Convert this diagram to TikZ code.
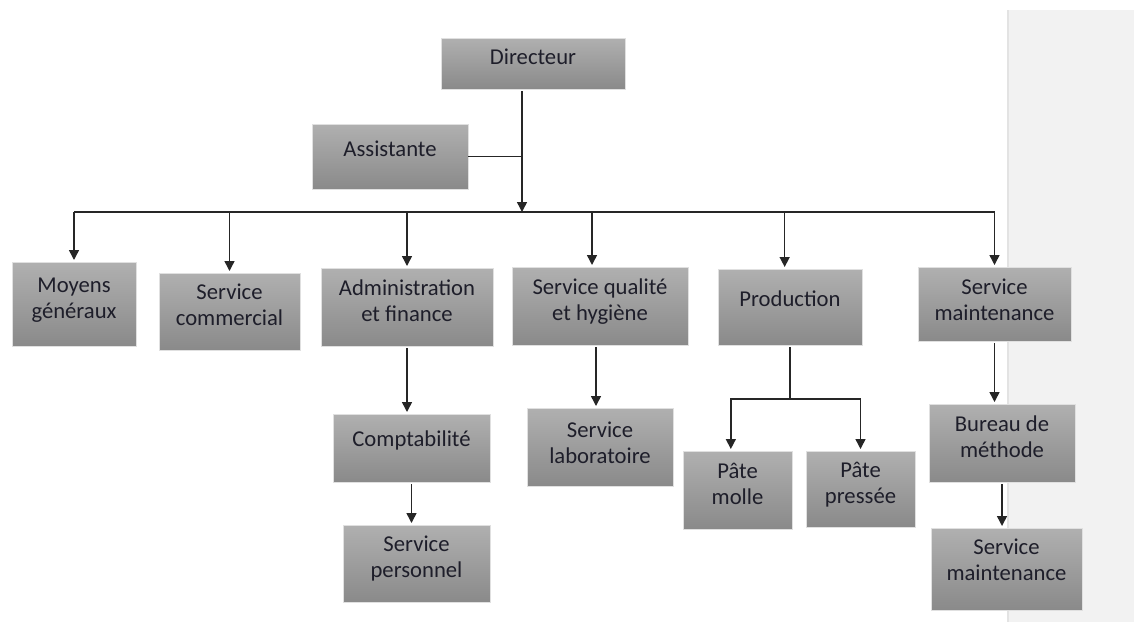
\documentclass[tikz,border=0pt]{standalone}
\usepackage{fontspec}
\setmainfont{Carlito}
\usetikzlibrary{arrows.meta}
\definecolor{ink}{HTML}{1E1E2A}
\newcommand{\Lift}[2][3pt]{\raisebox{#1}[\height][\depth]{\begin{tabular}{@{}c@{}}#2\end{tabular}}}

\begin{document}
\begin{tikzpicture}[x=0.75pt,y=-0.75pt,>={Triangle[width=7.5pt,length=7.5pt]}]
	\tikzstyle{box} = [draw=black!12, line width=0.6pt, top color=black!31, bottom color=black!46, inner sep=0pt, outer sep=0pt, text=ink, font=\fontsize{17}{19.5}\selectfont]
	\tikzstyle{arr} = [->, line width=1.1pt, draw=black!85, shorten >=1.5pt, shorten <=1.5pt]
	\tikzstyle{link} = [line width=1.1pt, draw=black!85]
	\useasboundingbox (0,0) rectangle (1134,622);

	% grey margin on the right
	\fill[black!5] (1007,10) rectangle (1134,622);
	\draw[black!11, line width=1.5pt] (1008,10) -- (1008,622);

	\node[box, minimum width=138pt, minimum height=38.25pt] (Dir) at (533,63.5) {\Lift{Directeur}};
	\node[box, minimum width=117pt, minimum height=48.75pt] (Assist) at (390,156.5) {\Lift[4pt]{Assistante}};
	\coordinate (Trunk) at (522,212);

	\node[box, minimum width=93pt, minimum height=63pt] (Moyens) at (74,304) {\Lift{Moyens\\généraux}};
	\node[box, minimum width=105.75pt, minimum height=57.75pt] (Commercial) at (229.5,311.5) {\Lift{Service\\commercial}};
	\node[box, minimum width=129pt, minimum height=58.5pt] (AdminFin) at (407,307) {\Lift{Administration\\et finance}};
	\node[box, minimum width=132pt, minimum height=58.5pt] (Qualite) at (600,306) {\Lift{Service qualité\\et hygiène}};
	\node[box, minimum width=108pt, minimum height=57pt] (Prod) at (790,307) {\Lift[4pt]{Production}};
	\node[box, minimum width=114.75pt, minimum height=55.5pt] (Maint) at (994.5,304) {\Lift[1.5pt]{Service\\maintenance}};

	\node[box, minimum width=117.75pt, minimum height=51pt] (Compta) at (411.5,448) {\Lift[5pt]{Comptabilité}};
	\node[box, minimum width=110.25pt, minimum height=57.75pt] (Personnel) at (416.5,563.5) {\Lift{Service\\personnel}};
	\node[box, minimum width=109.5pt, minimum height=58.5pt] (Labo) at (600,447) {\Lift[1.5pt]{Service\\laboratoire}};
	\coordinate (Fork) at (790,399);
	\node[box, minimum width=81.75pt, minimum height=58.5pt] (PateMolle) at (737.5,490) {\Lift{Pâte\\molle}};
	\node[box, minimum width=81.75pt, minimum height=57pt] (PatePressee) at (860.5,489) {\Lift[2.5pt]{Pâte\\pressée}};
	\node[box, minimum width=109.5pt, minimum height=58.5pt] (Bureau) at (1002,443) {\Lift[2.5pt]{Bureau de\\méthode}};
	\node[box, minimum width=113.25pt, minimum height=61.5pt] (MaintTwo) at (1006.5,569) {\Lift[5pt]{Service\\maintenance}};

	\draw[arr, shorten >=0pt] (Dir.south -| Trunk) -- (Trunk);
	\draw[link] (Assist.east) -- (Assist.east -| Trunk);
	\draw[link] (Moyens.north |- Trunk) -- (Maint.north |- Trunk);
	\draw[arr, shorten <=0pt] (Moyens.north |- Trunk) -- (Moyens.north);
	\draw[arr, shorten <=0pt] (Commercial.north |- Trunk) -- (Commercial.north);
	\draw[arr, shorten <=0pt] (AdminFin.north |- Trunk) -- (AdminFin.north);
	\draw[arr, shorten <=0pt] ([xshift=-6pt]Qualite.north |- Trunk) -- ([xshift=-6pt]Qualite.north);
	\draw[arr, shorten <=0pt] ([xshift=-4pt]Prod.north |- Trunk) -- ([xshift=-4pt]Prod.north);
	\draw[arr, shorten <=0pt] (Maint.north |- Trunk) -- (Maint.north);

	\draw[arr] (AdminFin.south) -- (AdminFin.south |- Compta.north);
	\draw[arr] (Compta.south) -- (Compta.south |- Personnel.north);
	\draw[arr] ([xshift=-3pt]Qualite.south) -- ([xshift=-3pt]Qualite.south |- Labo.north);
	\draw[link, shorten <=1.5pt] (Prod.south) -- (Fork);
	\draw[arr, shorten <=0pt] (Fork) -| ([xshift=-5pt]PateMolle.north);
	\draw[arr, shorten <=0pt] (Fork) -| (PatePressee.north);
	\draw[arr] (Maint.south) -- (Maint.south |- Bureau.north);
	\draw[arr] (Bureau.south) -- (Bureau.south |- MaintTwo.north);
\end{tikzpicture}
\end{document}
